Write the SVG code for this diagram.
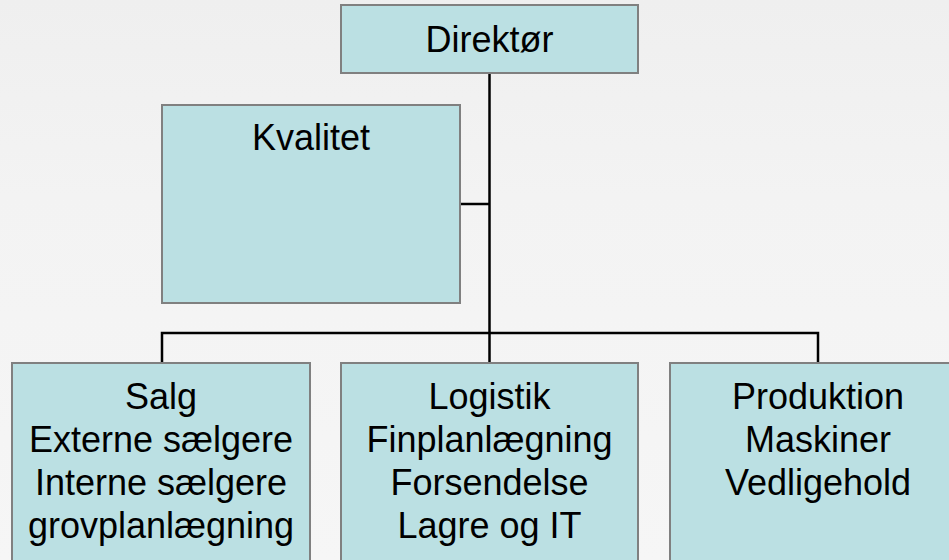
<svg xmlns="http://www.w3.org/2000/svg" width="949" height="560" viewBox="0 0 949 560">
  <defs>
    <linearGradient id="bg" x1="0" y1="0" x2="0" y2="1">
      <stop offset="0" stop-color="#efefef"/>
      <stop offset="0.35" stop-color="#f3f3f3"/>
      <stop offset="1" stop-color="#f6f6f6"/>
    </linearGradient>
    <style>
      .box { fill: #bbe0e3; stroke: #808080; stroke-width: 2; }
      .lbl { font-family: "Liberation Sans", Arial, sans-serif; font-size: 36px; fill: #000; text-anchor: middle; }
      .wire { fill: none; stroke: #000; stroke-width: 2.5; }
    </style>
  </defs>

  <rect x="0" y="0" width="949" height="560" fill="url(#bg)"/>

  <!-- connectors -->
  <g id="connectors">
    <path class="wire" d="M489.5 73 V363"/>
    <path class="wire" d="M460 204 H489.5"/>
    <path class="wire" d="M162 363 V333 H818 V363"/>
  </g>

  <g id="direktor">
    <rect class="box" x="341" y="5" width="297" height="68"/>
    <text class="lbl" x="489.5" y="52">Direktør</text>
  </g>

  <g id="kvalitet">
    <rect class="box" x="162" y="105" width="298" height="198"/>
    <text class="lbl" x="311" y="150">Kvalitet</text>
  </g>

  <g id="salg">
    <rect class="box" x="12" y="363" width="298" height="220"/>
    <text class="lbl" x="161" y="409">Salg</text>
    <text class="lbl" x="161" y="452">Externe sælgere</text>
    <text class="lbl" x="161" y="495">Interne sælgere</text>
    <text class="lbl" x="161" y="538">grovplanlægning</text>
  </g>

  <g id="logistik">
    <rect class="box" x="341" y="363" width="297" height="220"/>
    <text class="lbl" x="489.5" y="409">Logistik</text>
    <text class="lbl" x="489.5" y="452">Finplanlægning</text>
    <text class="lbl" x="489.5" y="495">Forsendelse</text>
    <text class="lbl" x="489.5" y="538">Lagre og IT</text>
  </g>

  <g id="produktion">
    <rect class="box" x="670" y="363" width="297" height="220"/>
    <text class="lbl" x="818" y="409">Produktion</text>
    <text class="lbl" x="818" y="452">Maskiner</text>
    <text class="lbl" x="818" y="495">Vedligehold</text>
  </g>
</svg>
